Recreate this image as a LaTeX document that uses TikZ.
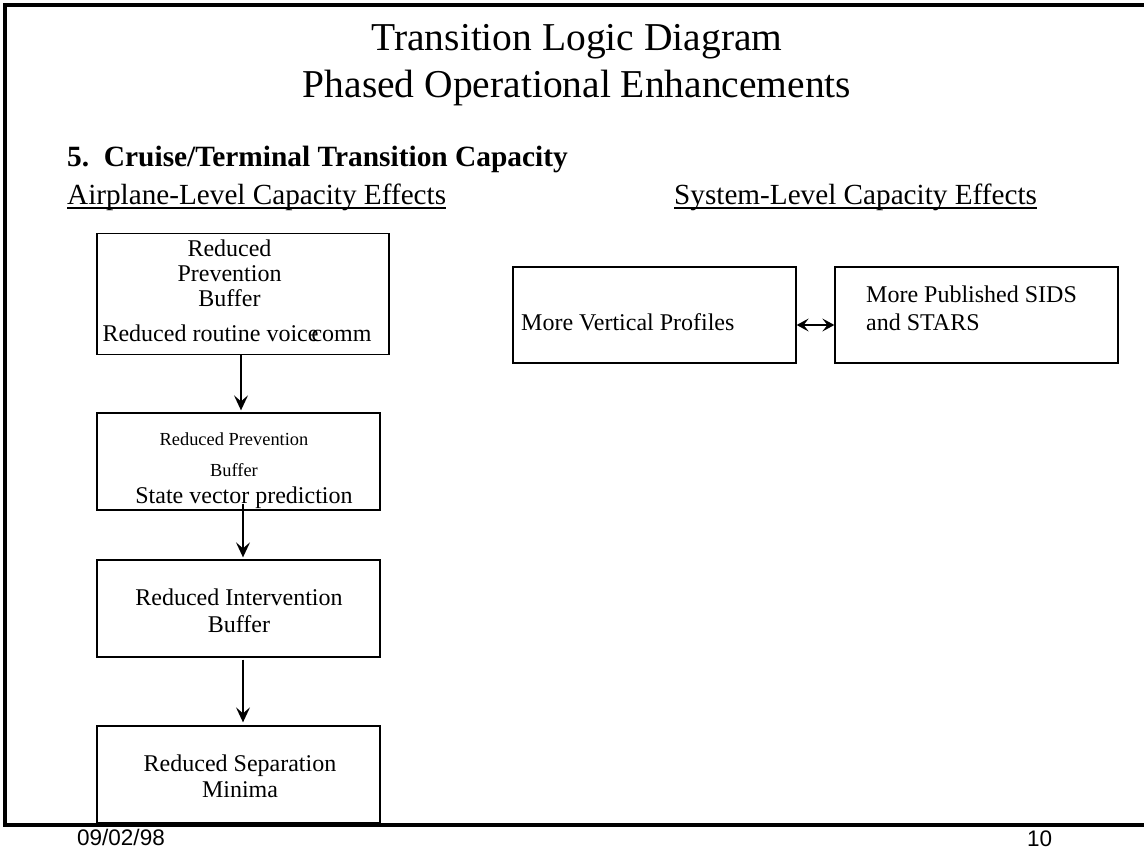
\documentclass[tikz,border=0pt]{standalone}
\usepackage{fontspec}
\setmainfont{Liberation Serif}
\newfontfamily\footfont{Liberation Sans}
\usetikzlibrary{arrows.meta}
\newcommand{\undl}[1]{\setbox0\hbox{#1}\rlap{\rule[-4pt]{\wd0}{1.5pt}}\box0}
\tikzset{
	box/.style={draw, line width=1.3pt, minimum width=283pt, minimum height=97pt, inner sep=0pt},
	txt/.style={font=\fontsize{24}{25}\selectfont, align=center, inner sep=0pt},
	arr/.style={-{Stealth[length=15pt,width=14pt,inset=6pt]}, line width=1.4pt}
}
\begin{document}
\begin{tikzpicture}[x=1pt, y=-1pt]
		\useasboundingbox (0,0) rectangle (1144,850);
		\draw[line width=3.5pt] (1144,5) -- (5,5) -- (5,825) -- (1144,825);
		\node[font=\fontsize{39.5}{47}\selectfont, align=center, inner sep=0pt, anchor=base] (title) at (577,98) {Transition Logic Diagram\\Phased Operational Enhancements};
		\node[font=\fontsize{29.4}{30}\selectfont\bfseries, inner sep=0pt, anchor=base west] (head) at (67,167) {5.\ \ Cruise/Terminal Transition Capacity};
		\node[font=\fontsize{29.2}{30}\selectfont, inner sep=0pt, anchor=base west] (plane) at (67,205) {\undl{Airplane-Level Capacity Effects}};
		\node[font=\fontsize{29.2}{30}\selectfont, inner sep=0pt, anchor=base west] (system) at (674,205) {\undl{System-Level Capacity Effects}};
		\node[box, minimum width=292pt, minimum height=121pt] (prev1) at (243,294) {};
		\node[box] (prev2) at (238.5,461.5) {};
		\node[box] (interv) at (238.5,608.5) {};
		\node[box] (sep) at (238.5,774.5) {};
		\node[box, minimum height=96pt] (vert) at (654.5,315) {};
		\node[box, minimum height=96pt] (pub) at (976.5,315) {};
		\node[txt, anchor=base] (prev1a) at (229.5,307) {Reduced\\Prevention\\Buffer};
		\node[txt, anchor=base] (prev1b) at (237,342) {Reduced routine voice\kern-7pt comm};
		\node[txt, font=\fontsize{18.4}{31}\selectfont, anchor=base] (prev2a) at (234,476) {Reduced Prevention\\Buffer};
		\node[txt, anchor=base] (prev2b) at (244,503) {State vector prediction};
		\node[txt, font=\fontsize{24}{27}\selectfont, anchor=base] (intervt) at (239,632) {Reduced Intervention\\Buffer};
		\node[txt, font=\fontsize{24}{26}\selectfont, anchor=base] (sept) at (240,797) {Reduced Separation\\Minima};
		\node[txt, anchor=base west] (vertt) at (521,331) {More Vertical Profiles};
		\node[txt, font=\fontsize{24}{28}\selectfont, align=left, anchor=base west] (pubt) at (866,331) {More Published SIDS\\and STARS};
		\draw[arr, shorten >=2pt] ([xshift=-2pt]prev1.south) -- ([xshift=-2pt]prev1.south |- prev2.north);
		\draw[arr, shorten >=2pt] ([xshift=4.5pt,yshift=7pt]prev2.south) -- ([xshift=4.5pt]interv.north);
		\draw[arr, shorten <=2pt, shorten >=3pt] ([xshift=4.5pt]interv.south) -- ([xshift=4.5pt]sep.north);
		\draw[line width=1.4pt, {Stealth[length=12pt,width=13pt,inset=5pt]}-{Stealth[length=12pt,width=13pt,inset=5pt]}] ([yshift=-10pt]vert.east) -- ([yshift=-10pt]pub.west);
		\node[font=\footfont\fontsize{22.5}{24}\selectfont, inner sep=0pt, anchor=base west] (date) at (77,845) {09/02/98};
		\node[font=\footfont\fontsize{22.5}{24}\selectfont, inner sep=0pt, anchor=base west] (page) at (1027,846) {10};
	\end{tikzpicture}
\end{document}
